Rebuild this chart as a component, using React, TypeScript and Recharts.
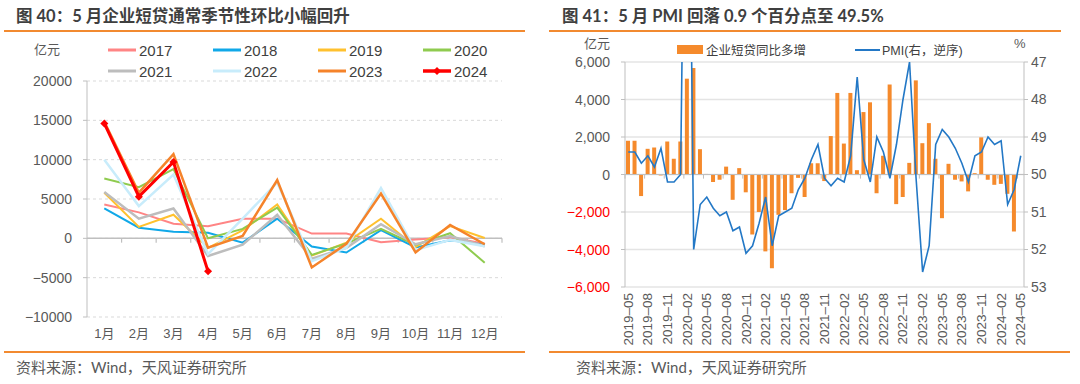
import React from 'react'
import { LineChart, Line, XAxis, YAxis, CartesianGrid, ReferenceLine, ComposedChart, Bar } from 'recharts'

// 图40：企业短贷季节性（亿元）
const months = ['1月', '2月', '3月', '4月', '5月', '6月', '7月', '8月', '9月', '10月', '11月', '12月']
const y2017 = [4300, 3300, 1850, 1550, 2500, 2500, 600, 600, -500, -150, 150, -700]
const y2018 = [3800, 1350, 850, 700, -550, 2500, -1050, -1800, 1050, -1150, -250, -800]
const y2019 = [5800, 1450, 3000, -1200, 1000, 4300, -2200, -550, 2500, -1100, 1550, 50]
const y2020 = [7600, 6500, 8800, 0, 1200, 3900, -2100, -650, 1200, -850, 650, -3100]
const y2021 = [5900, 2500, 3800, -2250, -800, 3000, -2600, -1200, 1800, -750, 300, -1000]
const y2022 = [10000, 4100, 8100, -2000, 2500, 7100, -2900, -1200, 6400, -1500, -200, -1000]
const y2023 = [14800, 5800, 10700, -1200, 300, 7400, -3700, -700, 5700, -1800, 1700, -750]
const y2024 = [14600, 5300, 9700, -4200]
const seasonTicks = [-10000, -5000, 0, 5000, 10000, 15000, 20000]

// 图41：企业短贷同比多增（亿元）与 PMI（%）
const pmiMonths = [
  '2019-05', '2019-06', '2019-07', '2019-08', '2019-09', '2019-10', '2019-11', '2019-12',
  '2020-01', '2020-02', '2020-03', '2020-04', '2020-05', '2020-06', '2020-07', '2020-08', '2020-09', '2020-10', '2020-11', '2020-12',
  '2021-01', '2021-02', '2021-03', '2021-04', '2021-05', '2021-06', '2021-07', '2021-08', '2021-09', '2021-10', '2021-11', '2021-12',
  '2022-01', '2022-02', '2022-03', '2022-04', '2022-05', '2022-06', '2022-07', '2022-08', '2022-09', '2022-10', '2022-11', '2022-12',
  '2023-01', '2023-02', '2023-03', '2023-04', '2023-05', '2023-06', '2023-07', '2023-08', '2023-09', '2023-10', '2023-11', '2023-12',
  '2024-01', '2024-02', '2024-03', '2024-04', '2024-05',
]
const loanYoY = [
  1800, 1800, -1150, 1370, 1440, -50, 1760, 840,
  1760, 5110, 5680, 1350, 30, -400, -280, 420, -1350, 340, -950, -3200,
  -2000, -4100, -5000, -2150, -1900, -1000, -180, -1200, 600, 600, -350, 2050,
  4350, 1650, 4350, 230, 3330, 3850, -1000, 1000, 4800, -1580, -1200, 620,
  5020, 1670, 2740, 840, -2330, 570, -280, -370, -900, 70, 1980, -280,
  -550, -500, -1030, -3040, null,
]
const pmi = [
  49.4, 49.4, 49.7, 49.5, 49.8, 49.3, 50.2, 50.2,
  50.0, 35.7, 52.0, 50.8, 50.6, 50.9, 51.1, 51.0, 51.5, 51.4, 52.1, 51.9,
  51.3, 50.6, 51.9, 51.1, 51.0, 50.9, 50.4, 50.1, 49.6, 49.2, 50.1, 50.3,
  50.1, 50.2, 49.5, 47.4, 49.6, 50.2, 49.0, 49.4, 50.1, 49.2, 48.0, 47.0,
  50.1, 52.6, 51.9, 49.2, 48.8, 49.0, 49.3, 49.7, 50.2, 49.5, 49.4, 49.0,
  49.2, 49.1, 50.8, 50.4, 49.5,
]
const loanTicks = [-6000, -4000, -2000, 0, 2000, 4000, 6000]
const pmiTicks = [47, 48, 49, 50, 51, 52, 53]

const NUM_FONT = "'Liberation Sans', Arial, 'Noto Sans CJK SC', sans-serif"
const TITLE_FONT = "Lato, 'Noto Sans CJK SC', sans-serif"
const ORANGE_RULE = '#F28A30'
const AXIS_GRAY = '#BFBFBF'
const TEXT_GRAY = '#595959'

const years = [
  { key: 'y2017', name: '2017', color: '#FF8585', width: 2, values: y2017 },
  { key: 'y2018', name: '2018', color: '#10A8E8', width: 2, values: y2018 },
  { key: 'y2019', name: '2019', color: '#FFC12E', width: 2, values: y2019 },
  { key: 'y2020', name: '2020', color: '#8FCB4F', width: 2, values: y2020 },
  { key: 'y2021', name: '2021', color: '#BDBDBD', width: 2.5, values: y2021 },
  { key: 'y2022', name: '2022', color: '#C8ECFB', width: 2.5, values: y2022 },
  { key: 'y2023', name: '2023', color: '#F5832A', width: 2.5, values: y2023 },
  { key: 'y2024', name: '2024', color: '#FF0000', width: 3, values: y2024 },
]

const seasonData = months.map((label, i) => {
  const row: Record<string, number | string | null> = { m: i + 1, label }
  years.forEach((y) => {
    row[y.key] = y.values[i] ?? null
  })
  return row
})

const pmiData = pmiMonths.map((month, i) => ({ i, month, loan: loanYoY[i], pmi: pmi[i] }))

const minus = (v: number) => (v < 0 ? '−' : '')

const Diamond = (props: any) => {
  const { cx, cy, stroke } = props
  if (cx == null || cy == null) return null
  const r = 4
  return <polygon points={`${cx},${cy - r} ${cx + r},${cy} ${cx},${cy + r} ${cx - r},${cy}`} fill={stroke} />
}

const LoanTick = (props: any) => {
  const { x, y, payload } = props
  const v = payload.value as number
  return (
    <text x={x} y={y} dy={5} textAnchor="end" fontSize={14} fontFamily={NUM_FONT} fill={v < 0 ? '#FF0000' : TEXT_GRAY}>
      {minus(v) + Math.abs(v).toLocaleString('en-US')}
    </text>
  )
}

const MonthTick = (props: any) => {
  const { x, y, payload } = props
  const label = (pmiMonths[payload.value] ?? '').replace('-', '–')
  return (
    <text x={x} y={y} transform={`rotate(-90 ${x} ${y})`} textAnchor="end" dominantBaseline="central" fontSize={13.5} fontFamily={NUM_FONT} fill={TEXT_GRAY}>
      {label}
    </text>
  )
}

function Title({ x, text }: { x: number; text: string }) {
  return (
    <div style={{ position: 'absolute', left: x, top: 5, fontFamily: TITLE_FONT, fontWeight: 700, fontSize: 16.5, color: '#3F3F3F', lineHeight: '22px', whiteSpace: 'nowrap' }}>
      {text}
    </div>
  )
}

function Rule({ x, y, w }: { x: number; y: number; w: number }) {
  return <div style={{ position: 'absolute', left: x, top: y, width: w, height: 2, background: ORANGE_RULE }} />
}

function Source({ x }: { x: number }) {
  return (
    <div style={{ position: 'absolute', left: x, top: 357, fontFamily: TITLE_FONT, fontSize: 15, color: TEXT_GRAY, lineHeight: '20px', whiteSpace: 'nowrap' }}>
      资料来源：Wind，天风证券研究所
    </div>
  )
}

function Label({ x, y, text, size = 13 }: { x: number; y: number; text: string; size?: number }) {
  return (
    <div style={{ position: 'absolute', left: x, top: y, fontFamily: NUM_FONT, fontSize: size, color: TEXT_GRAY, lineHeight: '16px', whiteSpace: 'nowrap' }}>
      {text}
    </div>
  )
}

function SeasonLegend() {
  return (
    <div style={{ position: 'absolute', left: 108, top: 41, width: 420, display: 'grid', gridTemplateColumns: 'repeat(4, 105px)', rowGap: 3 }}>
      {years.map((y) => (
        <div key={y.key} style={{ display: 'flex', alignItems: 'center', height: 18 }}>
          <svg width={30} height={12}>
            <line x1={0} y1={6} x2={28} y2={6} stroke={y.color} strokeWidth={y.key === 'y2024' ? 3.5 : 3} />
            {y.key === 'y2024' && <polygon points="14,2 18,6 14,10 10,6" fill={y.color} />}
          </svg>
          <span style={{ fontFamily: NUM_FONT, fontSize: 15, color: '#404040', marginLeft: 1 }}>{y.name}</span>
        </div>
      ))}
    </div>
  )
}

function PmiLegend() {
  return (
    <div style={{ position: 'absolute', left: 677, top: 40, display: 'flex', alignItems: 'center', fontFamily: NUM_FONT, fontSize: 12.5, color: '#404040' }}>
      <div style={{ width: 26, height: 9, background: '#F58A2C' }} />
      <span style={{ marginLeft: 3 }}>企业短贷同比多增</span>
      <svg width={27} height={10} style={{ marginLeft: 49 }}>
        <line x1={0} y1={5} x2={25} y2={5} stroke="#2378C6" strokeWidth={2} />
      </svg>
      <span>PMI(右，逆序)</span>
    </div>
  )
}

function SeasonChart() {
  const boundaries = months.map((_, i) => i + 1.5)
  return (
    <div style={{ position: 'absolute', left: 0, top: 0 }}>
      <LineChart width={540} height={384} data={seasonData} margin={{ top: 81, right: 38, bottom: 37, left: 0 }}>
        <CartesianGrid vertical={false} stroke="#D9D9D9" strokeDasharray="3 3" />
        <XAxis
          dataKey="m"
          type="number"
          domain={[0.5, 12.5]}
          ticks={months.map((_, i) => i + 1)}
          interval={0}
          tickFormatter={(v: number) => months[v - 1]}
          axisLine={false}
          tickLine={false}
          tickSize={0}
          tickMargin={12}
          height={30}
          tick={{ fontSize: 13, fill: TEXT_GRAY, fontFamily: NUM_FONT }}
        />
        <YAxis
          domain={[-10000, 20000]}
          ticks={seasonTicks}
          interval={0}
          width={87}
          axisLine={{ stroke: AXIS_GRAY }}
          tickLine={{ stroke: AXIS_GRAY }}
          tickSize={4}
          tickMargin={11}
          tickFormatter={(v: number) => minus(v) + Math.abs(v)}
          tick={{ fontSize: 14, fill: TEXT_GRAY, fontFamily: NUM_FONT }}
        />
        <ReferenceLine y={0} stroke={AXIS_GRAY} strokeWidth={1.5} />
        {boundaries.map((b) => (
          <ReferenceLine key={b} segment={[{ x: b, y: 0 }, { x: b, y: -550 }]} stroke={AXIS_GRAY} strokeWidth={1.2} />
        ))}
        {years.map((y) => (
          <Line
            key={y.key}
            dataKey={y.key}
            type="linear"
            stroke={y.color}
            strokeWidth={y.width}
            dot={y.key === 'y2024' ? <Diamond /> : false}
            activeDot={false}
            connectNulls={false}
            isAnimationActive={false}
          />
        ))}
      </LineChart>
    </div>
  )
}

function PmiChart() {
  const tickIdx = pmiMonths.map((_, i) => i).filter((i) => i % 3 === 0)
  return (
    <div style={{ position: 'absolute', left: 540, top: 0 }}>
      <ComposedChart width={540} height={384} data={pmiData} margin={{ top: 62, right: 16, bottom: 37, left: 0 }}>
        <CartesianGrid vertical={false} yAxisId="loan" stroke="#E4E4E4" strokeWidth={1.3} />
        <XAxis
          dataKey="i"
          type="number"
          domain={[-0.5, pmiMonths.length - 0.5]}
          ticks={tickIdx}
          interval={0}
          axisLine={false}
          tickLine={false}
          tickSize={0}
          tickMargin={6}
          height={60}
          tick={<MonthTick />}
        />
        <YAxis
          yAxisId="loan"
          domain={[-6000, 6000]}
          ticks={loanTicks}
          interval={0}
          width={85}
          axisLine={{ stroke: AXIS_GRAY }}
          tickLine={{ stroke: AXIS_GRAY }}
          tickSize={4}
          tickMargin={11}
          tick={<LoanTick />}
        />
        <YAxis
          yAxisId="pmi"
          orientation="right"
          reversed
          domain={[47, 53]}
          ticks={pmiTicks}
          interval={0}
          allowDataOverflow
          width={40}
          axisLine={{ stroke: AXIS_GRAY }}
          tickLine={{ stroke: AXIS_GRAY }}
          tickSize={4}
          tickMargin={3}
          tick={{ fontSize: 14, fill: TEXT_GRAY, fontFamily: NUM_FONT }}
        />
        <ReferenceLine yAxisId="loan" y={0} stroke={AXIS_GRAY} strokeWidth={1.2} />
        {tickIdx.map((i) => (
          <ReferenceLine key={i} yAxisId="loan" segment={[{ x: i - 0.5, y: 0 }, { x: i - 0.5, y: -220 }]} stroke={AXIS_GRAY} strokeWidth={1} />
        ))}
        <Bar yAxisId="loan" dataKey="loan" fill="#F58A2C" barSize={4} isAnimationActive={false} />
        <Line yAxisId="pmi" dataKey="pmi" type="linear" stroke="#2378C6" strokeWidth={1.6} dot={false} activeDot={false} isAnimationActive={false} />
      </ComposedChart>
    </div>
  )
}

export default function App() {
  return (
    <div style={{ position: 'absolute', left: 0, top: 0, width: 1080, height: 384, background: '#fff', overflow: 'hidden' }}>
      <Title x={16} text="图 40：5 月企业短贷通常季节性环比小幅回升" />
      <Rule x={4} y={30} w={521} />
      <Title x={562} text="图 41：5 月 PMI 回落 0.9 个百分点至 49.5%" />
      <Rule x={549} y={30} w={512} />

      <SeasonChart />
      <Label x={34} y={42} text="亿元" />
      <SeasonLegend />

      <PmiChart />
      <Label x={584} y={36} text="亿元" />
      <Label x={1014} y={36} text="%" />
      <PmiLegend />

      <Rule x={4} y={351} w={521} />
      <Rule x={549} y={351} w={521} />
      <Source x={16} />
      <Source x={576} />
    </div>
  )
}
